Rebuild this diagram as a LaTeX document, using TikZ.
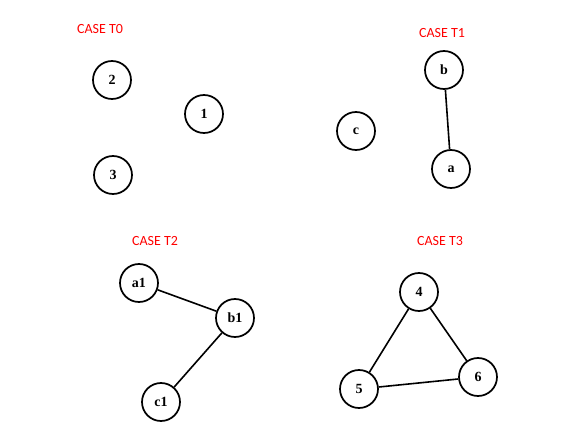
\documentclass[tikz,border=0pt]{standalone}
\usepackage{fontspec}
\setmainfont{Liberation Serif}
\newfontfamily\labelfont{Carlito}
\begin{document}
\begin{tikzpicture}[x=0.75pt, y=-0.75pt, every node/.style={circle}]
    \tikzset{vertex/.style={draw, line width=1.3pt, minimum size=28.5pt, inner sep=0pt, font=\bfseries\fontsize{10.5}{12}\selectfont},
             casetitle/.style={rectangle, text=red, inner sep=0pt, font=\labelfont\fontsize{10.5}{12}\selectfont},
             edge/.style={line width=1.2pt}}
    \useasboundingbox (0,0) rectangle (576,443);

    % Case titles
    \node (t0) [casetitle] at (100,29) {CASE T0};
    \node (t1) [casetitle] at (442,33) {CASE T1};
    \node (t2) [casetitle] at (155,241) {CASE T2};
    \node (t3) [casetitle] at (440,241) {CASE T3};

    % Nodes
    \node (2) [vertex] at (112,80) {2};
    \node (1) [vertex] at (204,114) {1};
    \node (3) [vertex] at (113,175) {3};

    \node (b) [vertex] at (444,70) {b};
    \node (c) [vertex] at (356,131) {c};
    \node (a) [vertex] at (451,169) {a};

    \node (a1) [vertex] at (139,283) {a1};
    \node (b1) [vertex] at (235,318) {b1};
    \node (c1) [vertex] at (161,402) {c1};

    \node (4) [vertex] at (419,292) {4};
    \node (5) [vertex] at (359,389) {5};
    \node (6) [vertex] at (478,377) {6};

    % Edges
    \draw[edge] (b) -- (a);
    \draw[edge] (a1) -- (b1);
    \draw[edge] (b1) -- (c1);
    \draw[edge] (4) -- (5);
    \draw[edge] (4) -- (6);
    \draw[edge] (5) -- (6);

\end{tikzpicture}
\end{document}
